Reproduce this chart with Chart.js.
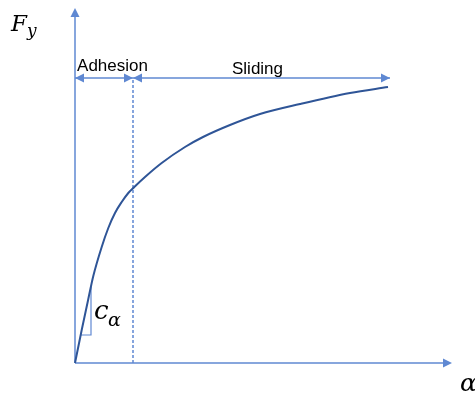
<!DOCTYPE html>
<html>
<head>
<meta charset="utf-8">
<script src="https://cdn.jsdelivr.net/npm/chart.js@4.4.1/dist/chart.umd.min.js"></script>
<style>
  body { margin: 0; background: #fff; }
  #wrap { width: 475px; height: 399px; position: relative; }
</style>
</head>
<body>
<div id="wrap"><canvas id="myChart"></canvas></div>
<script>
// slip angle vs lateral force
let alpha = [0, 6.7, 13.3, 18.3, 26.7, 33.3, 40, 46.7, 53.3, 59.3, 70, 86.7, 110, 128, 155, 185, 225, 275, 313];
let fy    = [0, 33, 64, 87, 116, 135, 150, 161, 170, 176, 186, 200, 216, 226, 238, 249, 259, 270, 276];

let alphaMax = 377, fyMax = 355;     // axis arrow tips
let boundary = 58;                   // adhesion / sliding limit
let zoneFy = 285, slideEnd = 315;    // height and end of the zone arrows
let slopeA = [6, 16, 16], slopeF = [28, 28, 76];   // c_alpha triangle

const axisBlue = '#5F88D2';
const curveBlue = '#2F5597';

function seg(xs, ys) {
    return xs.map((x, i) => ({x: x, y: ys[i]}));
}

function arrowHead(ctx, x, y, dir) {
    // dir: 'l', 'r', 'u'
    let L = 9, W = 4.5;
    ctx.beginPath();
    if (dir === 'r') { ctx.moveTo(x, y); ctx.lineTo(x - L, y - W); ctx.lineTo(x - L, y + W); }
    if (dir === 'l') { ctx.moveTo(x, y); ctx.lineTo(x + L, y - W); ctx.lineTo(x + L, y + W); }
    if (dir === 'u') { ctx.moveTo(x, y); ctx.lineTo(x - W, y + L); ctx.lineTo(x + W, y + L); }
    ctx.closePath();
    ctx.fill();
}

const labels = {
    id: 'labels',
    afterDatasetsDraw(chart) {
        let ctx = chart.ctx, sx = chart.scales.x, sy = chart.scales.y;
        let px = v => sx.getPixelForValue(v), py = v => sy.getPixelForValue(v);
        ctx.save();
        ctx.fillStyle = axisBlue;
        arrowHead(ctx, px(alphaMax), py(0), 'r');
        arrowHead(ctx, px(0), py(fyMax), 'u');
        arrowHead(ctx, px(0), py(zoneFy), 'l');
        arrowHead(ctx, px(boundary), py(zoneFy), 'r');
        arrowHead(ctx, px(boundary), py(zoneFy), 'l');
        arrowHead(ctx, px(slideEnd), py(zoneFy), 'r');

        ctx.fillStyle = '#000';
        ctx.textAlign = 'center';
        ctx.font = '17px "Liberation Sans"';
        ctx.fillText('Adhesion', 112.5, 71);
        ctx.fillText('Sliding', 257.5, 74);

        ctx.textAlign = 'left';
        ctx.font = 'italic 23px "DejaVu Serif"';
        ctx.fillText('F', 11, 31);
        ctx.font = 'italic 17px "DejaVu Serif"';
        ctx.fillText('y', 27, 36);

        ctx.font = 'italic 26px "DejaVu Serif"';
        ctx.fillText('c', 94, 319);
        ctx.font = 'italic 19px "DejaVu Serif"';
        ctx.fillText('\u03b1', 108, 326);

        ctx.font = 'italic 25px "DejaVu Serif"';
        ctx.fillText('\u03b1', 460, 391);
        ctx.restore();
    }
};

const ctx = document.getElementById('myChart').getContext('2d');

const myChart = new Chart(ctx, {
    type: 'scatter',
    data: {
        datasets: [{
            data: seg(alpha, fy),
            showLine: true,
            borderColor: curveBlue,
            borderWidth: 2,
            cubicInterpolationMode: 'monotone'
        }, {
            data: seg([0, alphaMax - 4], [0, 0]),
            showLine: true,
            borderColor: axisBlue,
            borderWidth: 1.5
        }, {
            data: seg([0, 0], [0, fyMax - 4]),
            showLine: true,
            borderColor: axisBlue,
            borderWidth: 1.5
        }, {
            data: seg([boundary, boundary], [0, zoneFy]),
            showLine: true,
            borderColor: axisBlue,
            borderWidth: 1.5,
            borderDash: [3, 2]
        }, {
            data: seg([0, slideEnd], [zoneFy, zoneFy]),
            showLine: true,
            borderColor: axisBlue,
            borderWidth: 1.5
        }, {
            data: seg(slopeA, slopeF),
            showLine: true,
            borderColor: axisBlue,
            borderWidth: 1.2
        }]
    },
    options: {
        responsive: true,
        maintainAspectRatio: false,
        animation: false,
        clip: false,
        elements: { point: { radius: 0, hoverRadius: 0 } },
        layout: { padding: { left: 75, right: 23, top: 8, bottom: 36 } },
        scales: {
            x: { type: 'linear', min: 0, max: alphaMax, display: false },
            y: { type: 'linear', min: 0, max: fyMax, display: false }
        },
        plugins: {
            legend: { display: false },
            tooltip: { enabled: false }
        }
    },
    plugins: [labels]
});
</script>
</body>
</html>
